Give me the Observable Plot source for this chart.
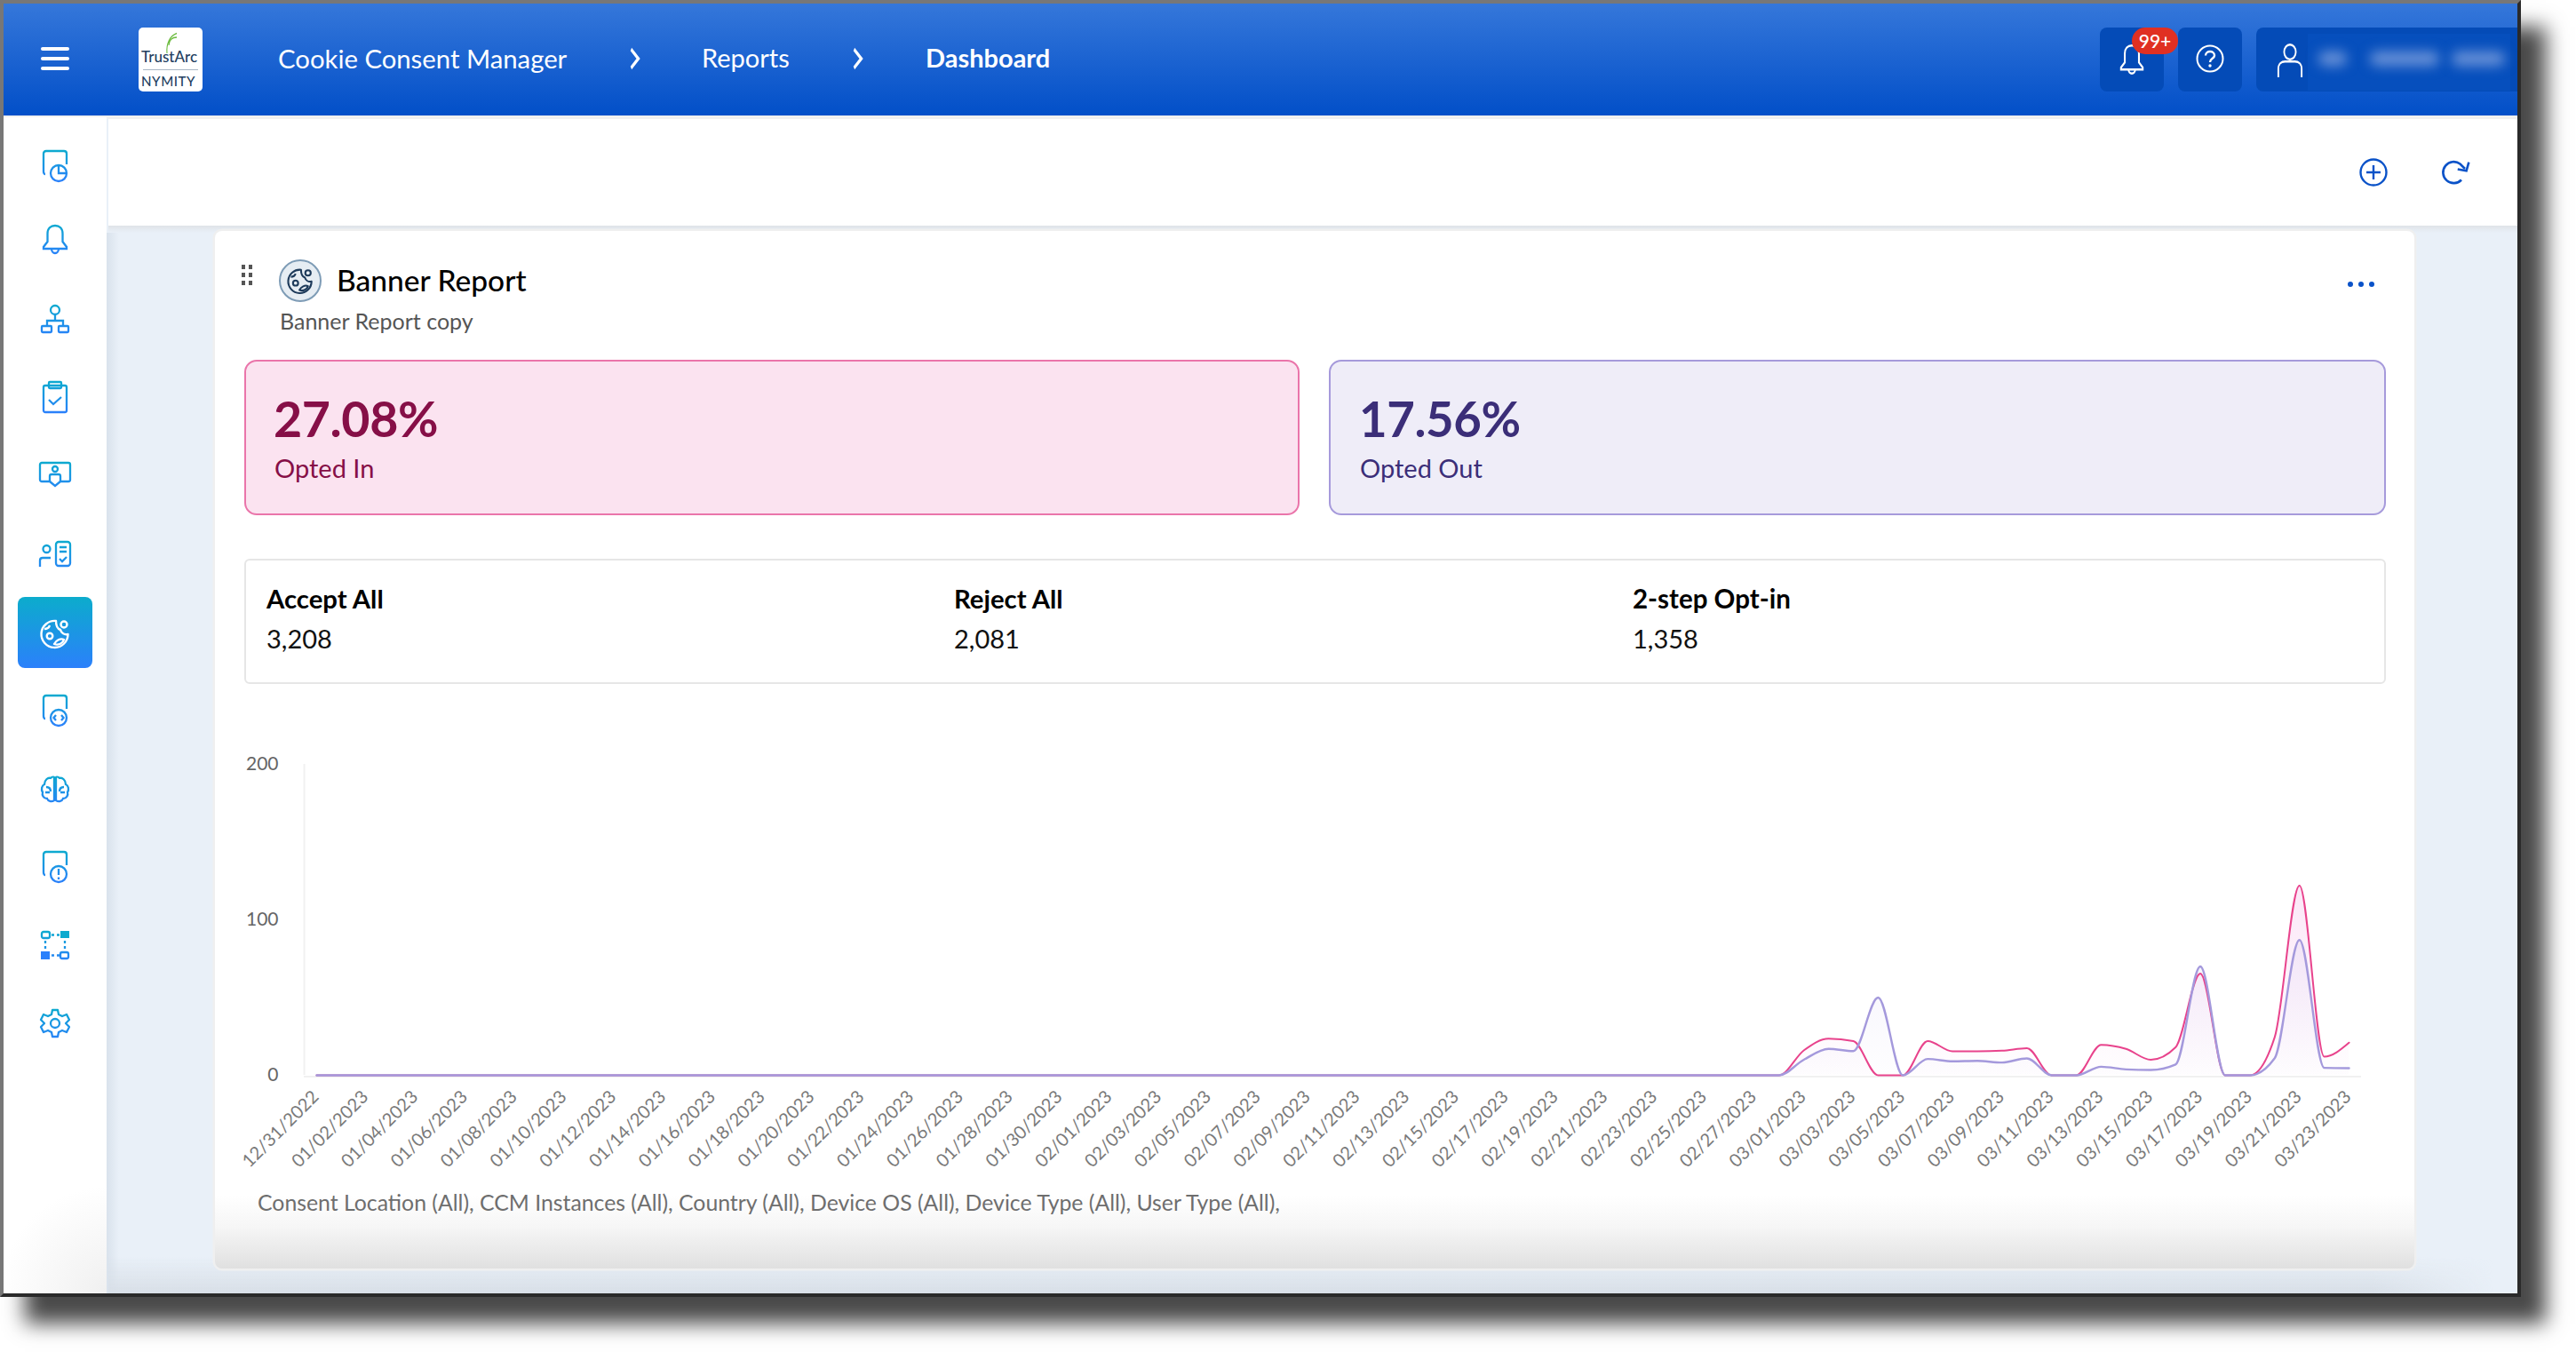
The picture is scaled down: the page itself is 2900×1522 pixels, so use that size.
<!DOCTYPE html>
<html><head><meta charset="utf-8">
<script src="https://cdn.jsdelivr.net/npm/d3@7"></script>
<script src="https://cdn.jsdelivr.net/npm/@observablehq/plot@0.6"></script>
<style>
html,body{margin:0;padding:0;background:#fff;width:2900px;height:1522px;overflow:hidden;font-family:Lato,"Noto Sans",sans-serif}
.a{position:absolute;box-sizing:border-box;white-space:nowrap}
#win{left:0;top:0;width:2838px;height:1460px;background:#e9f0f8;border-style:solid;border-width:4px 4px 4px 4px;border-color:#777 #2a2a2a #2a2a2a #777;box-shadow:28px 30px 22px #4a4a4a}
svg.ic{position:absolute;overflow:visible}
</style></head><body>
<div class="a" id="win"></div>
<div id="ui"></div>
<div class="a" id="chart" style="left:240px;top:840px"></div>
<script>
// ---------- chart data ----------
const startDay = "2022-12-31", endDay = "2023-03-24";
const optedIn = [
 0, // 12/31
 0,0,0,0,0,0,0,0,0,0,0,0,0,0,0,0,0,0,0,0,0,0,0,0,0,0,0,0,0,0,0, // Jan
 0,0,0,0,0,0,0,0,0,0,0,0,0,0,0,0,0,0,0,0,0,0,0,0,0,0,0,0, // Feb
 16,23.6,22,0,0,22,15.4,15.4,15.8,17.5,0,0,19.6,17,10,18,65.5,0,0,24.5,122,12,21 // Mar
];
const optedOut = [
 0,
 0,0,0,0,0,0,0,0,0,0,0,0,0,0,0,0,0,0,0,0,0,0,0,0,0,0,0,0,0,0,0,
 0,0,0,0,0,0,0,0,0,0,0,0,0,0,0,0,0,0,0,0,0,0,0,0,0,0,0,0,
 10,17,15.6,50,0,10.5,9,9.3,8.2,10.9,0,0,5.5,3.8,3.4,6.9,70,0,0,11,87,4.8,4.6
];
const tickDays = ["2022-12-31","2023-01-02","2023-01-04","2023-01-06","2023-01-08","2023-01-10","2023-01-12","2023-01-14","2023-01-16","2023-01-18","2023-01-20","2023-01-22","2023-01-24","2023-01-26","2023-01-28","2023-01-30","2023-02-01","2023-02-03","2023-02-05","2023-02-07","2023-02-09","2023-02-11","2023-02-13","2023-02-15","2023-02-17","2023-02-19","2023-02-21","2023-02-23","2023-02-25","2023-02-27","2023-03-01","2023-03-03","2023-03-05","2023-03-07","2023-03-09","2023-03-11","2023-03-13","2023-03-15","2023-03-17","2023-03-19","2023-03-21","2023-03-23"];
const yTicks = [0,100,200];
const pink = "#e8438c", purple = "#a499dc";

// ---------- chart ----------
const days = d3.utcDay.range(new Date(startDay), new Date(endDay));
const rowsIn = days.map((d,i)=>({d, v:optedIn[i]}));
const rowsOut = days.map((d,i)=>({d, v:optedOut[i]}));
const defs = () => {
  const s = d3.create("svg:defs");
  [["gIn","#e86ad0",0.16],["gOut","#9a8fe0",0.10]].forEach(([id,c,o])=>{
    const g = s.append("linearGradient").attr("id",id).attr("x1",0).attr("y1",0).attr("x2",0).attr("y2",1);
    g.append("stop").attr("offset","0%").attr("stop-color",c).attr("stop-opacity",o);
    g.append("stop").attr("offset","100%").attr("stop-color",c).attr("stop-opacity",0.01);
  });
  return s.node();
};
const plot = Plot.plot({
  width:2450, height:520, marginLeft:116, marginRight:46, marginTop:20, marginBottom:150,
  style:{fontFamily:"Lato, sans-serif", background:"transparent", overflow:"visible"},
  x:{type:"utc", domain:[new Date(startDay), new Date("2023-03-23")]},
  y:{domain:[0,200]},
  marks:[
    defs,
    Plot.ruleX([new Date("2022-12-30T12:00Z")],{y1:0,y2:200,stroke:"#f1f1f1",strokeWidth:2}),
    Plot.ruleY([0],{x1:new Date("2022-12-30T12:00Z"),x2:new Date("2023-03-23T12:00Z"),stroke:"#f1f1f1",strokeWidth:2,dy:1.5}),
    Plot.areaY(rowsIn,{x:"d",y:"v",curve:"monotone-x",fill:"url(#gIn)"}),
    Plot.areaY(rowsOut,{x:"d",y:"v",curve:"monotone-x",fill:"url(#gOut)"}),
    Plot.lineY(rowsIn,{x:"d",y:"v",curve:"monotone-x",stroke:pink,strokeWidth:2}),
    Plot.lineY(rowsOut,{x:"d",y:"v",curve:"monotone-x",stroke:purple,strokeWidth:2.4}),
    Plot.axisY({ticks:yTicks,tickSize:0,tickPadding:43,label:null,fontSize:21,color:"#666",tickFormat:d=>String(d)}),
    Plot.axisX({ticks:tickDays.map(s=>new Date(s)),tickSize:0,tickPadding:16,tickRotate:-45,label:null,fontSize:20.2,color:"#7a7a7a",dx:-1,dy:5,tickFormat:d3.utcFormat("%m/%d/%Y")})
  ]
});
document.getElementById("chart").append(plot);

// ---------- page chrome ----------
const ui = document.getElementById("ui");
function box(l,t,w,h,css,html){const e=document.createElement("div");e.className="a";e.style.cssText=`left:${l}px;top:${t}px;width:${w}px;height:${h}px;${css||""}`;if(html)e.innerHTML=html;ui.append(e);return e}
function txt(l,base,s,size,color,weight,extra){const e=document.createElement("div");e.className="a";e.style.cssText=`left:${l}px;top:${base-size+2}px;font-size:${size}px;line-height:${size*1.2}px;height:${size*1.2}px;color:${color};font-weight:${weight||400};${extra||""}`;e.textContent=s;ui.append(e);return e}
function svg(cx,cy,w,h,inner,vb){ui.insertAdjacentHTML("beforeend",`<svg class="ic" style="left:${cx-w/2}px;top:${cy-h/2}px" width="${w}" height="${h}" viewBox="${vb||"0 0 32 32"}" preserveAspectRatio="none" fill="none">${inner}</svg>`)}

// gradients for icons
ui.insertAdjacentHTML("beforeend",`<svg width="0" height="0" style="position:absolute"><defs><linearGradient id="sg" gradientUnits="userSpaceOnUse" x1="0" y1="0" x2="0" y2="36"><stop offset="0" stop-color="#0caacf"/><stop offset="1" stop-color="#2b80fb"/></linearGradient></defs></svg>`);

// header
box(4,4,2830,126,"background:linear-gradient(#3577da,#024fc8)");
box(4,130,2830,4,"background:#f0f0f0");
// hamburger
[55,66,77].forEach(y=>box(46,y-2,32,4,"background:#fff;border-radius:2px"));
// logo
box(156,31,72,72,"background:#fff;border-radius:5px");
svg(192,48,16,24,`<path d="M8 32C6 18 14 6 30 2M12 20C13 12 20 8 30 8" stroke="#6bbb3e" stroke-width="2.2"/>`);
txt(159,69,"TrustArc",17,"#23405f",500);
box(161,78,62,1,"background:#a9b6c4");
txt(159,95,"NYMITY",15,"#23405f",500,"letter-spacing:.6px");
// breadcrumbs
txt(313,75,"Cookie Consent Manager",29.3,"#fff",400);
txt(790,75,"Reports",29,"#fff",400);
txt(1042,75,"Dashboard",29,"#fff",700);
[714,965].forEach(x=>svg(x,66,13,24,`<path d="M6 2 L26 16 L6 30" stroke="#fff" stroke-width="6"/>`));
// right header boxes
box(2364,31,72,72,"background:#044bb7;border-radius:8px");
box(2452,31,72,72,"background:#044bb7;border-radius:8px");
box(2540,31,294,72,"background:#044bb7;border-radius:8px 0 0 8px");
svg(2400,67,30,36,`<path d="M3 26H29V24L24.5 19V10C24.5 5 21 2 16 2S7.5 5 7.5 10V19L3 24Z M12 26A4 4 0 0 0 20 26" stroke="#fff" stroke-width="2.2"/>`);
box(2400,31,52,30,"background:#e03022;border-radius:15px;text-align:center;color:#fff;font-size:21px;line-height:29px;font-weight:500","99+");
svg(2488,66,32,32,`<circle cx="16" cy="16" r="14.5" stroke="#fff" stroke-width="2"/><path d="M11 12.5C11 9.5 13.5 8 16 8S21 9.7 21 12.5C21 16 16 15.5 16 20" stroke="#fff" stroke-width="2.4"/><circle cx="16" cy="24" r="1.7" fill="#fff"/>`);
svg(2578,68,30,38,`<circle cx="16" cy="8" r="7" stroke="#fff" stroke-width="2"/><path d="M2 32V24C2 19 6 17 10 17H22C26 17 30 19 30 24V32" stroke="#fff" stroke-width="2"/>`);
box(2598,38,228,64,"background:#064fbd");
[[2610,32],[2668,78],[2760,60]].forEach(([x,w])=>box(x,58,w,16,"background:#6a92d8;filter:blur(7px);border-radius:8px"));
// sidebar
box(4,132,116,1324,"background:radial-gradient(circle at 100% 100%,#f0f0f0 0,#fff 120px)");
box(120,262,14,1194,"background:linear-gradient(to right,#d9e2ec,rgba(233,240,248,0))");
// toolbar
box(122,134,2712,120,"background:#fff");
box(122,254,2712,8,"background:linear-gradient(#dfe3e8,#e9f0f8)");
svg(2672,194,32,32,`<circle cx="16" cy="16" r="14.5" stroke="#0a52c8" stroke-width="2.4"/><path d="M16 8V24M8 16H24" stroke="#0a52c8" stroke-width="2.4"/>`);
svg(2763,194,32,32,`<path d="M24 24.5A12 12 0 1 1 22.5 6.5L28 12" stroke="#0a52c8" stroke-width="2.6"/><path d="M20 14L30 14L31 4" stroke="#0a52c8" stroke-width="2.6" transform="rotate(10 28 12)"/>`);
// sidebar icons: [centre y, width, height, svg]
const st = `stroke="url(#sg)" stroke-width="2.3"`;
const docIcon = extra => `<path ${st} d="M3 27C2 27 1 26 1 24V4C1 2 2 1 4 1H24C26 1 27 2 27 4V16"/><circle ${st} cx="18" cy="26" r="9"/>${extra}`;
const sideIcons = [
 [187,28,36,docIcon(`<path ${st} d="M18 17V26H27"/>`)],
 [270,28,36,`<path ${st} d="M1 28H27V26L22.500 20V11C22.500 5 19 2 14 2S5.500 5 5.500 11V20L1 26Z M10 28A4 5 0 0 0 18 28"/>`],
 [359,32,32,`<circle ${st} cx="16" cy="6" r="5"/><path ${st} d="M16 11V18M7 24V18H25V24"/><rect ${st} x="1" y="24" width="11" height="7" rx="1"/><rect ${st} x="20" y="24" width="11" height="7" rx="1"/>`],
 [447,28,36,`<rect ${st} x="1" y="5" width="26" height="30" rx="2"/><rect ${st} x="7" y="1" width="14" height="7" rx="1"/><path ${st} d="M7 21L12 26L21 18"/>`],
 [534,36,28,`<path ${st} d="M3 1H33C34 1 35 2 35 3V20C35 21 34 22 33 22H24L18 27L12 22H3C2 22 1 21 1 20V3C1 2 2 1 3 1Z"/><circle ${st} cx="18" cy="8" r="3"/><path ${st} d="M12 22V16C12 15 13 14 14 14H22C23 14 24 15 24 16V22"/>`],
 [623,36,29,`<circle ${st} cx="8.500" cy="9" r="4"/><path ${st} d="M1 29V22C1 20 2 19 4 19H13"/><rect ${st} x="19" y="1" width="16" height="27" rx="3"/><path ${st} d="M23 7H31M23 12H31M23 20L26 23L31 18"/>`],
 [800,28,36,docIcon(`<path ${st} d="M15 23L12.500 26L15 29M21 23L23.500 26L21 29"/>`)],
 [888,32,32,`<path ${st} d="M15 3V29C12 31 8 30 7 27C3 27 1 23 2 20C0 17 1 12 4 11C4 6 8 3 11 4C12 3 14 2 15 3ZM17 3V29C20 31 24 30 25 27C29 27 31 23 30 20C32 17 31 12 28 11C28 6 24 3 21 4C20 3 18 2 17 3Z"/><path ${st} d="M6 14C9 14 11 16 11 19M26 14C23 14 21 16 21 19M5 20H10M27 20H22"/>`],
 [976,28,36,docIcon(`<path ${st} d="M18 20V27M18 29.500V32"/>`)],
 [1064,32,32,`<rect ${st} x="1" y="1" width="9" height="7" rx="2"/><rect x="22" y="0" width="10" height="8" fill="#0caacf"/><rect x="0" y="23" width="10" height="9" fill="#2b80fb"/><rect ${st} x="22" y="24" width="9" height="7" rx="2"/><path ${st} stroke-dasharray="3 3" d="M12 4.500H21M12 27.500H21M5 11V21M27 11V21"/>`],
 [1152,32,32,`<circle ${st} cx="16" cy="16" r="5"/><path ${st} d="M13 1H19L20 6L24 8L29 6L32 12L28 16L32 20L29 26L24 24L20 26L19 31H13L12 26L8 24L3 26L0 20L4 16L0 12L3 6L8 8L12 6Z" stroke-linejoin="round"/>`]
];
sideIcons.forEach(([y,w,h,p])=>svg(62,y,w,h,p,`0 0 ${w} ${h}`));
box(20,672,84,80,"background:linear-gradient(#0caccc,#2b80fb);border-radius:8px");
const globe = (c,sw)=>`<path d="M17 2A15 15 0 1 0 30.500 17C26 18 23 15 22 12C19 11 17 7 17 2Z" stroke="${c}" stroke-width="${sw}" stroke-linejoin="round"/><path d="M4 11C7 11 9 10 10 7" stroke="${c}" stroke-width="${sw}"/><circle cx="10" cy="19" r="3.300" stroke="${c}" stroke-width="${sw}"/><circle cx="26" cy="6" r="3.500" stroke="${c}" stroke-width="${sw}"/><path d="M15 28C17 24 22 21 26 23C25 27 20 30 15 28Z" stroke="${c}" stroke-width="${sw}" stroke-linejoin="round"/>`;
svg(62,713,32,32,globe("#fff",2.4));
// bottom band under card (fades out to the right)
box(122,1415,2712,41,"background:linear-gradient(rgba(216,223,231,0),#d8dfe7);-webkit-mask-image:linear-gradient(to right,#000 94%,transparent 99%);mask-image:linear-gradient(to right,#000 94%,transparent 99%)");
// card
box(242,260,2476,1168,"background:linear-gradient(#fff 0,#fff 93%,#f6f6f6 96%,#e0e0e0 100%);border-radius:8px;box-shadow:0 0 0 2.500px #efefef");
// card header
[298,307,316].forEach(y=>[272,280].forEach(x=>box(x,y,4,5,"background:#555")));
box(314,292,48,48,"background:#e6edf3;border:2px solid #7e9cb6;border-radius:50%");
svg(338,316,28,28,globe("#1d3a5a",2.4));
txt(379,326,"Banner Report",33.5,"#000",500);
txt(315,369,"Banner Report copy",25,"#555",400);
[2646,2658,2670].forEach(x=>box(x-3,317,6,6,"background:#0a52c8;border-radius:50%"));
// KPI cards
box(275,404.5,1188,175,"background:#fbe3f0;border:2.500px solid #ea75aa;border-radius:14px");
txt(308,491,"27.08%",55.5,"#860f47",700,"letter-spacing:-.4px");
txt(309,536.5,"Opted In",29,"#860f47",400);
box(1496,404.5,1190,175,"background:#efedf8;border:2.500px solid #a69adb;border-radius:14px");
txt(1530,491,"17.56%",54.5,"#3b2e78",700,"letter-spacing:-.4px");
txt(1531,536.5,"Opted Out",29,"#3b2e78",400);
// totals
box(275,629,2411,141,"background:#fff;border:2px solid #e6e6e6;border-radius:6px");
txt(300,683.500,"Accept All",29.3,"#000",700);
txt(300,729,"3,208",29,"#111",400);
txt(1074,683.500,"Reject All",29.3,"#000",700);
txt(1074,729,"2,081",29,"#111",400);
txt(1838,683.500,"2-step Opt-in",29.5,"#000",700);
txt(1838,729,"1,358",29,"#111",400);
// filter caption
txt(290,1362,"Consent Location (All), CCM Instances (All), Country (All), Device OS (All), Device Type (All), User Type (All),",24.8,"#6e6e6e",400);
document.getElementById("chart").style.zIndex=5;
</script>
</body></html>
